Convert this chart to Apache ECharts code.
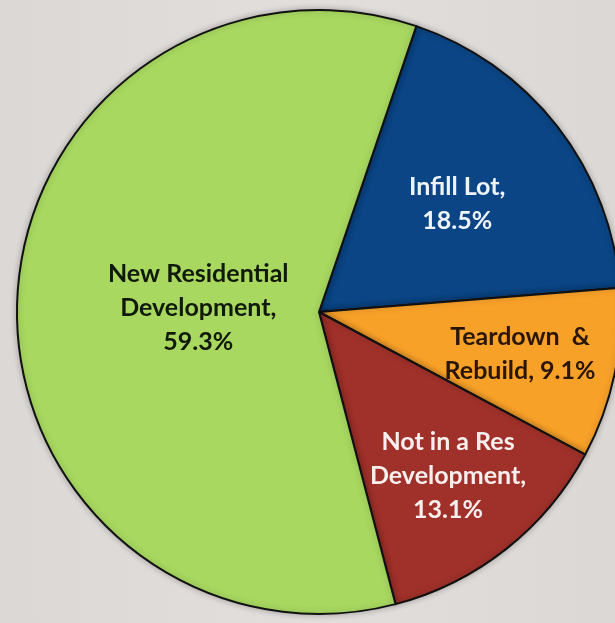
<!DOCTYPE html>
<html>
<head>
<meta charset="utf-8">
<script src="https://cdn.jsdelivr.net/npm/echarts@6/dist/echarts.min.js"></script>
<style>
html,body{margin:0;padding:0;background:#dedad8;}
#main{width:615px;height:623px;}
</style>
</head>
<body>
<div id="main"></div>
<script>
var categories = ['Infill Lot', 'Teardown & Rebuild', 'Not in a Res Development', 'New Residential Development'];
var labelTexts = ['Infill Lot,\n', 'Teardown \u00a0&\nRebuild, ', 'Not in a Res\nDevelopment,\n', 'New Residential\nDevelopment,\n'];
var values = [18.5, 9.1, 13.1, 59.3];
var sliceColors = ['#0b4585', '#f8a129', '#a0312a', '#a8d860'];
var textColors = ['#eef3f8', '#2a1606', '#f7eeee', '#111a08'];
var labelRadiusFactor = [0.58, 0.68, 0.69, 0.40];

var CX = 319, CY = 312, R = 302, START = 71.2;

var chart = echarts.init(document.getElementById('main'));
var total = values.reduce(function(a, b){ return a + b; }, 0);
var cum = [];
(function(){ var s = 0; for (var i = 0; i < values.length; i++) { cum.push(s + values[i] / 2); s += values[i]; } })();

chart.setOption({
  backgroundColor: {
    type: 'linear', x: 0, y: 0, x2: 1, y2: 0,
    colorStops: [
      {offset: 0, color: '#dcd8d6'},
      {offset: 0.5, color: '#e2dedc'},
      {offset: 1, color: '#dcd8d6'}
    ]
  },
  series: [{
    type: 'pie',
    center: [CX, CY],
    radius: [0, R],
    startAngle: START,
    clockwise: true,
    animation: false,
    silent: true,
    data: categories.map(function(c, i){
      return {
        name: c, value: values[i],
        itemStyle: {color: sliceColors[i]},
        label: {color: textColors[i]}
      };
    }),
    itemStyle: {
      borderColor: '#111',
      borderWidth: 2,
      shadowBlur: 6,
      shadowColor: 'rgba(0,0,0,0.25)'
    },
    label: {
      show: true,
      position: 'inside',
      fontFamily: 'Lato',
      fontWeight: 'bold',
      fontSize: 25,
      lineHeight: 34,
      align: 'center',
      formatter: function(p){ return labelTexts[p.dataIndex] + p.value.toFixed(1) + '%'; }
    },
    labelLine: {show: false},
    labelLayout: function(p){
      var i = p.dataIndex;
      var deg = 90 - START + cum[i] / total * 360;
      var a = deg * Math.PI / 180;
      var k = labelRadiusFactor[i] * R;
      return {x: CX + k * Math.sin(a), y: CY - k * Math.cos(a), align: 'center', verticalAlign: 'middle'};
    }
  }]
});
</script>
</body>
</html>
